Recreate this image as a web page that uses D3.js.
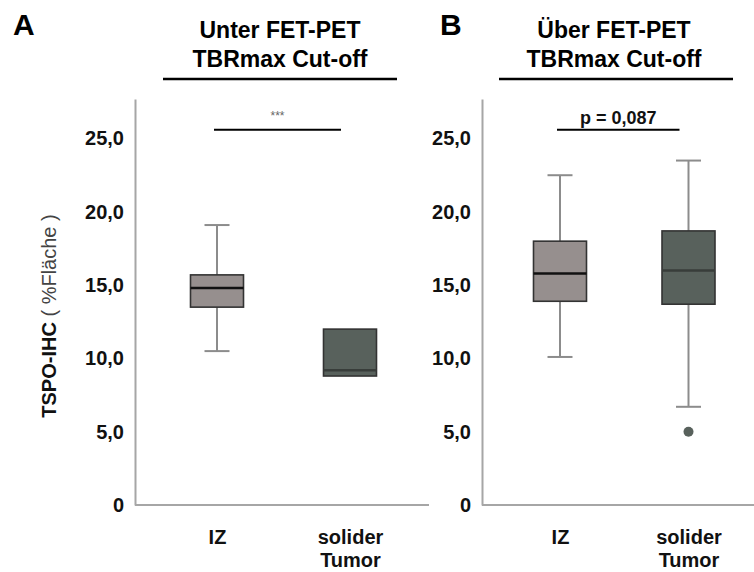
<!DOCTYPE html>
<html lang="de">
<head>
<meta charset="UTF-8">
<script src="https://cdnjs.cloudflare.com/ajax/libs/d3/7.8.5/d3.min.js"></script>
<style>
    body { margin: 0; background: #fff; }
    text { font-family: "Liberation Sans", Arial, sans-serif; }
</style>
</head>
<body>
<div id="chart"></div>
<script>
    // box stats per group: [lower whisker, Q1, median, Q3, upper whisker]
    var categories = ["IZ", "solider Tumor"];
    var unterIZ = [10.5, 13.5, 14.8, 15.7, 19.1];
    var unterTumor = [8.8, 8.8, 9.2, 12.0, 12.0];
    var ueberIZ = [10.1, 13.9, 15.8, 18.0, 22.5];
    var ueberTumor = [6.7, 13.7, 16.0, 18.7, 23.5];
    var ueberOutliers = [["solider Tumor", 5.0]];
    var yTicks = [0, 5, 10, 15, 20, 25];
    var yTickLabels = ["0", "5,0", "10,0", "15,0", "20,0", "25,0"];

    var fills = {"IZ": "#968f8e", "solider Tumor": "#58615c"};
    var medianColor = {"IZ": "#111", "solider Tumor": "#383d3a"};

    var svg = d3.select("#chart").append("svg")
        .attr("width", 754)
        .attr("height", 572);

    var y = d3.scaleLinear().domain([0, 27.7]).range([505, 99]);

    var panels = [
        {letter: "A", letterX: 13, title: ["Unter FET-PET", "TBRmax Cut-off"], titleX: 280,
         lineX: [163, 397], axisX: [135, 429], xRange: [217, 350],
         stats: [unterIZ, unterTumor], outliers: [], sig: "***"},
        {letter: "B", letterX: 440, title: ["Über FET-PET", "TBRmax Cut-off"], titleX: 614,
         lineX: [499, 733], axisX: [482, 754], xRange: [560, 688.5],
         stats: [ueberIZ, ueberTumor], outliers: ueberOutliers, sig: "p = 0,087"}
    ];

    panels.forEach(function (p) {
        var g = svg.append("g");

        g.append("text")
            .attr("x", p.letterX).attr("y", 35)
            .attr("font-size", 30).attr("font-weight", "bold")
            .text(p.letter);

        g.selectAll(".title").data(p.title).enter().append("text")
            .attr("x", p.titleX)
            .attr("y", function (d, i) { return 38 + i * 29; })
            .attr("text-anchor", "middle")
            .attr("font-size", 23).attr("font-weight", "bold")
            .text(function (d) { return d; });

        g.append("line")
            .attr("x1", p.lineX[0]).attr("x2", p.lineX[1])
            .attr("y1", 79).attr("y2", 79)
            .attr("stroke", "#000").attr("stroke-width", 2.5);

        var x = d3.scalePoint().domain(categories).range(p.xRange);

        // y axis
        var yAxis = g.append("g")
            .attr("transform", "translate(" + p.axisX[0] + ",0)")
            .call(d3.axisLeft(y).tickValues(yTicks)
                .tickFormat(function (d, i) { return yTickLabels[i]; })
                .tickSize(0).tickSizeOuter(0).tickPadding(11));
        yAxis.select(".domain").attr("stroke", "#a6a6a6").attr("stroke-width", 2);
        yAxis.selectAll("text")
            .attr("font-size", 20).attr("font-weight", "bold").attr("fill", "#111")
            .attr("font-family", "'Liberation Sans', Arial, sans-serif");

        // x axis baseline
        g.append("line")
            .attr("x1", p.axisX[0]).attr("x2", p.axisX[1])
            .attr("y1", y(0)).attr("y2", y(0))
            .attr("stroke", "#a6a6a6").attr("stroke-width", 2);

        var xAxis = g.append("g")
            .attr("transform", "translate(0," + y(0) + ")")
            .call(d3.axisBottom(x).tickSize(0).tickFormat(""));
        xAxis.select(".domain").remove();
        xAxis.selectAll(".tick").each(function (d) {
            var t = d3.select(this).append("text")
                .attr("text-anchor", "middle")
                .attr("font-size", 20).attr("font-weight", "bold").attr("fill", "#111")
                .attr("font-family", "'Liberation Sans', Arial, sans-serif");
            d.split(" ").forEach(function (w, i) {
                t.append("tspan").attr("x", 0).attr("y", 39 + i * 23).text(w);
            });
        });

        // boxes
        var bw = 53, cap = 25;
        categories.forEach(function (c, i) {
            var s = p.stats[i], cx = x(c);
            var bg = g.append("g");
            if (s[0] < s[1]) {
                bg.append("line").attr("x1", cx).attr("x2", cx)
                    .attr("y1", y(s[0])).attr("y2", y(s[1]))
                    .attr("stroke", "#8c8c8c").attr("stroke-width", 2);
                bg.append("line").attr("x1", cx - cap / 2).attr("x2", cx + cap / 2)
                    .attr("y1", y(s[0])).attr("y2", y(s[0]))
                    .attr("stroke", "#8c8c8c").attr("stroke-width", 2);
            }
            if (s[4] > s[3]) {
                bg.append("line").attr("x1", cx).attr("x2", cx)
                    .attr("y1", y(s[4])).attr("y2", y(s[3]))
                    .attr("stroke", "#8c8c8c").attr("stroke-width", 2);
                bg.append("line").attr("x1", cx - cap / 2).attr("x2", cx + cap / 2)
                    .attr("y1", y(s[4])).attr("y2", y(s[4]))
                    .attr("stroke", "#8c8c8c").attr("stroke-width", 2);
            }
            bg.append("rect")
                .attr("x", cx - bw / 2).attr("width", bw)
                .attr("y", y(s[3])).attr("height", y(s[1]) - y(s[3]))
                .attr("fill", fills[c]).attr("stroke", "#333").attr("stroke-width", 1.6);
            bg.append("line")
                .attr("x1", cx - bw / 2).attr("x2", cx + bw / 2)
                .attr("y1", y(s[2])).attr("y2", y(s[2]))
                .attr("stroke", medianColor[c]).attr("stroke-width", 2.5);
        });

        g.selectAll(".outlier").data(p.outliers).enter().append("circle")
            .attr("cx", function (d) { return x(d[0]); })
            .attr("cy", function (d) { return y(d[1]); })
            .attr("r", 5)
            .attr("fill", fills["solider Tumor"]);

        // significance bar
        var sx0 = x(categories[0]) - 3, sx1 = x(categories[1]) - 9, sy = y(25.6);
        g.append("line")
            .attr("x1", sx0).attr("x2", sx1).attr("y1", sy).attr("y2", sy)
            .attr("stroke", "#000").attr("stroke-width", 2);
        if (p.sig === "***") {
            g.append("text")
                .attr("x", (sx0 + sx1) / 2).attr("y", sy - 10)
                .attr("text-anchor", "middle")
                .attr("font-size", 12).attr("fill", "#666")
                .text(p.sig);
        } else {
            g.append("text")
                .attr("x", (sx0 + sx1) / 2).attr("y", sy - 6)
                .attr("text-anchor", "middle")
                .attr("font-size", 18).attr("font-weight", "bold").attr("fill", "#111")
                .text(p.sig);
        }
    });

    // y axis title
    var yt = svg.append("text")
        .attr("transform", "translate(56,316) rotate(-90)")
        .attr("text-anchor", "middle")
        .attr("font-size", 20).attr("fill", "#111");
    yt.append("tspan").attr("font-weight", "bold").text("TSPO-IHC");
    yt.append("tspan").attr("fill", "#444").text(" ( %Fläche )");
</script>
</body>
</html>
